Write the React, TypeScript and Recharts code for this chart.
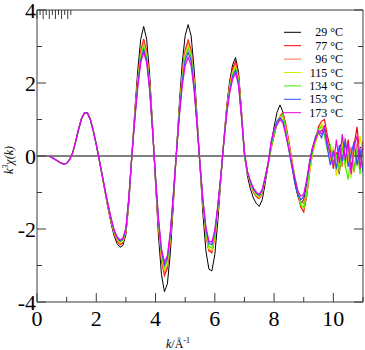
import { LineChart, Line, XAxis, YAxis, ReferenceLine, Legend } from "recharts";

// k grid, Å^-1
const K = [
  0.4, 0.5, 0.6, 0.7, 0.8, 0.9,
  1.0, 1.1, 1.2, 1.3, 1.4, 1.5, 1.6, 1.7, 1.8, 1.9,
  2.0, 2.1, 2.2, 2.3, 2.4, 2.5, 2.6, 2.7, 2.8, 2.9,
  3.0, 3.1, 3.2, 3.3, 3.4, 3.5, 3.6, 3.7, 3.8, 3.9,
  4.0, 4.1, 4.2, 4.3, 4.4, 4.5, 4.6, 4.7, 4.8, 4.9,
  5.0, 5.1, 5.2, 5.3, 5.4, 5.5, 5.6, 5.7, 5.8, 5.9,
  6.0, 6.1, 6.2, 6.3, 6.4, 6.5, 6.6, 6.7, 6.8, 6.9,
  7.0, 7.1, 7.2, 7.3, 7.4, 7.5, 7.6, 7.7, 7.8, 7.9,
  8.0, 8.1, 8.2, 8.3, 8.4, 8.5, 8.6, 8.7, 8.8, 8.9,
  9.0, 9.1, 9.2, 9.3, 9.4, 9.5, 9.6, 9.7, 9.8, 9.9,
  10.0, 10.1, 10.2, 10.3, 10.4, 10.5, 10.6, 10.7, 10.8, 10.9,
  11.0,
];

const T29 = [
  0, -0.04, -0.09, -0.14, -0.19, -0.22,
  -0.2, -0.1, 0.08, 0.38, 0.72, 1.02, 1.18, 1.18, 1.0, 0.7,
  0.32, -0.1, -0.55, -1.0, -1.45, -1.85, -2.18, -2.4, -2.5, -2.45,
  -2.15, -1.3, 0.0, 1.25, 2.35, 3.2, 3.55, 3.2, 2.25, 0.85,
  -0.75, -2.2, -3.25, -3.72, -3.5, -2.65, -1.35, 0.05, 1.4, 2.55,
  3.3, 3.6, 3.3, 2.4, 1.1, -0.3, -1.6, -2.6, -3.1, -3.15,
  -2.7, -1.8, -0.7, 0.4, 1.35, 2.05, 2.5, 2.7, 2.3, 1.25,
  0.05, -0.55, -0.9, -1.15, -1.3, -1.38, -1.2, -0.75, -0.25, 0.3,
  0.8, 1.2, 1.4, 1.2, 0.75, 0.25, -0.25, -0.75, -1.1, -1.3,
  -1.2, -0.75, -0.15, 0.25, 0.5, 0.65, 0.7, 0.6, 0.35, 0.05,
  -0.15, -0.05, 0.2, 0.4, 0.3, 0.05, -0.2, -0.3, -0.05, 0.25,
  0.15,
];

const T77 = [
  0, -0.04, -0.09, -0.14, -0.19, -0.22,
  -0.2, -0.1, 0.08, 0.38, 0.72, 1.02, 1.18, 1.18, 1.0, 0.69,
  0.32, -0.1, -0.54, -0.98, -1.41, -1.79, -2.11, -2.33, -2.43, -2.38,
  -2.09, -1.21, 0.0, 1.13, 2.12, 2.88, 3.2, 2.88, 2.03, 0.77,
  -0.66, -1.94, -2.86, -3.27, -3.08, -2.33, -1.19, 0.04, 1.23, 2.24,
  2.9, 3.17, 2.9, 2.11, 0.97, -0.26, -1.34, -2.18, -2.6, -2.65,
  -2.27, -1.51, -0.63, 0.38, 1.3, 1.97, 2.4, 2.59, 2.21, 1.2,
  0.08, -0.47, -0.77, -0.98, -1.11, -1.17, -1.02, -0.64, -0.21, 0.2,
  0.55, 0.9, 1.1, 1.18, 0.85, 0.4, -0.1, -0.6, -1.05, -1.4,
  -1.53, -1.1, -0.45, 0.1, 0.45, 0.8, 0.95, 1.0, 0.55, 0.2,
  -0.35, 0.1, -0.5, 0.35, -0.2, 0.45, -0.4, 0.3, 0.8, -0.1,
  0.4,
];

const T96 = [
  0, -0.04, -0.09, -0.14, -0.19, -0.22,
  -0.2, -0.1, 0.08, 0.38, 0.72, 1.02, 1.18, 1.18, 1.0, 0.69,
  0.32, -0.1, -0.53, -0.97, -1.39, -1.78, -2.09, -2.3, -2.4, -2.35,
  -2.06, -1.2, 0.0, 1.1, 2.07, 2.82, 3.12, 2.82, 1.98, 0.75,
  -0.65, -1.89, -2.8, -3.2, -3.01, -2.28, -1.16, 0.04, 1.2, 2.19,
  2.84, 3.1, 2.84, 2.06, 0.95, -0.26, -1.33, -2.16, -2.57, -2.61,
  -2.24, -1.49, -0.62, 0.37, 1.26, 1.91, 2.33, 2.51, 2.14, 1.16,
  0.02, -0.46, -0.75, -0.95, -1.08, -1.15, -1.0, -0.62, -0.21, 0.25,
  0.6, 0.95, 1.05, 1.12, 0.8, 0.3, -0.2, -0.65, -1.0, -1.25,
  -1.3, -0.95, -0.35, 0.15, 0.4, 0.7, 0.85, 0.75, 0.4, -0.1,
  0.2, -0.4, 0.15, -0.3, 0.5, -0.15, 0.25, -0.45, 0.35, 0.1,
  -0.3,
];

const T115 = [
  0, -0.04, -0.09, -0.14, -0.19, -0.22,
  -0.2, -0.1, 0.08, 0.38, 0.72, 1.02, 1.18, 1.18, 1.0, 0.69,
  0.31, -0.1, -0.53, -0.96, -1.38, -1.76, -2.07, -2.28, -2.38, -2.33,
  -2.04, -1.17, 0.0, 1.08, 2.02, 2.75, 3.05, 2.75, 1.94, 0.73,
  -0.63, -1.85, -2.73, -3.12, -2.94, -2.23, -1.13, 0.04, 1.18, 2.14,
  2.77, 3.02, 2.77, 2.02, 0.92, -0.25, -1.31, -2.13, -2.54, -2.58,
  -2.21, -1.48, -0.6, 0.36, 1.23, 1.87, 2.28, 2.46, 2.09, 1.14,
  0.1, -0.45, -0.74, -0.94, -1.07, -1.13, -0.98, -0.62, -0.2, 0.3,
  0.65, 0.95, 1.1, 1.0, 0.7, 0.3, -0.15, -0.55, -0.95, -1.3,
  -1.45, -1.0, -0.4, 0.05, 0.35, 0.6, 0.9, 0.7, 0.3, -0.2,
  0.25, -0.55, -0.1, 0.4, -0.35, 0.2, -0.6, 0.15, -0.3, 0.55,
  0.0,
];

const T134 = [
  0, -0.04, -0.09, -0.14, -0.19, -0.22,
  -0.2, -0.1, 0.08, 0.38, 0.72, 1.02, 1.18, 1.18, 1.0, 0.69,
  0.31, -0.1, -0.53, -0.96, -1.36, -1.74, -2.05, -2.26, -2.35, -2.3,
  -2.02, -1.16, 0.0, 1.06, 1.99, 2.7, 3.0, 2.7, 1.9, 0.72,
  -0.62, -1.8, -2.67, -3.05, -2.87, -2.17, -1.11, 0.04, 1.15, 2.09,
  2.71, 2.95, 2.71, 1.97, 0.9, -0.24, -1.28, -2.08, -2.48, -2.52,
  -2.16, -1.44, -0.6, 0.36, 1.2, 1.82, 2.23, 2.4, 2.05, 1.11,
  -0.02, -0.44, -0.72, -0.92, -1.04, -1.1, -0.96, -0.6, -0.2, 0.25,
  0.6, 0.9, 1.0, 1.15, 0.65, 0.2, -0.25, -0.6, -1.0, -1.35,
  -1.4, -1.05, -0.3, 0.1, 0.5, 0.75, 0.8, 0.55, 0.15, 0.3,
  -0.3, 0.05, -0.45, 0.25, -0.25, -0.65, 0.1, -0.4, 0.2, -0.5,
  0.35,
];

const T153 = [
  0, -0.04, -0.09, -0.14, -0.19, -0.22,
  -0.2, -0.1, 0.08, 0.38, 0.72, 1.02, 1.18, 1.18, 1.0, 0.68,
  0.31, -0.1, -0.53, -0.95, -1.35, -1.72, -2.03, -2.23, -2.33, -2.28,
  -2.0, -1.13, 0.0, 1.03, 1.93, 2.62, 2.91, 2.62, 1.85, 0.7,
  -0.6, -1.76, -2.6, -2.98, -2.8, -2.12, -1.08, 0.04, 1.11, 2.01,
  2.61, 2.84, 2.61, 1.9, 0.87, -0.23, -1.23, -2.0, -2.39, -2.43,
  -2.08, -1.39, -0.57, 0.35, 1.17, 1.78, 2.18, 2.35, 2.0, 1.09,
  0.06, -0.43, -0.7, -0.9, -1.01, -1.08, -0.94, -0.59, -0.2, 0.35,
  0.7, 0.95, 1.05, 0.95, 0.6, 0.15, -0.3, -0.7, -1.05, -1.2,
  -1.1, -0.7, -0.2, 0.2, 0.55, 0.65, 0.5, 0.75, 0.2, -0.25,
  0.15, -0.35, 0.3, -0.15, 0.45, -0.3, 0.05, 0.4, -0.25, 0.2,
  -0.45,
];

const T173 = [
  0, -0.04, -0.09, -0.14, -0.19, -0.22,
  -0.2, -0.1, 0.08, 0.38, 0.72, 1.02, 1.18, 1.18, 1.0, 0.68,
  0.31, -0.1, -0.52, -0.94, -1.33, -1.7, -2.01, -2.21, -2.3, -2.25,
  -1.98, -1.12, 0.0, 1.0, 1.88, 2.56, 2.84, 2.56, 1.8, 0.68,
  -0.59, -1.72, -2.54, -2.9, -2.73, -2.07, -1.05, 0.04, 1.05, 1.91,
  2.48, 2.7, 2.48, 1.8, 0.83, -0.23, -1.2, -1.95, -2.33, -2.36,
  -2.03, -1.35, -0.56, 0.34, 1.13, 1.72, 2.1, 2.27, 1.93, 1.05,
  0.12, -0.42, -0.68, -0.87, -0.99, -1.05, -0.91, -0.57, -0.19, 0.4,
  0.75, 0.85, 1.0, 0.9, 0.55, 0.2, -0.2, -0.6, -0.95, -1.1,
  -1.05, -0.65, -0.15, 0.25, 0.45, 0.7, 0.6, 0.85, 0.35, 0.05,
  -0.3, 0.45, -0.2, 0.6, -0.1, 0.35, -0.5, 0.25, 0.55, -0.35,
  0.3,
];

const SERIES = [
  { key: "t29", name: "29 °C", color: "#000000", width: 1, values: T29 },
  { key: "t77", name: "77 °C", color: "#ff0000", width: 1.2, values: T77 },
  { key: "t96", name: "96 °C", color: "#ff6a4d", width: 1.2, values: T96 },
  { key: "t115", name: "115 °C", color: "#d4f000", width: 1.2, values: T115 },
  { key: "t134", name: "134 °C", color: "#44ee00", width: 1.2, values: T134 },
  { key: "t153", name: "153 °C", color: "#3050ff", width: 1.2, values: T153 },
  { key: "t173", name: "173 °C", color: "#ee00ee", width: 1.2, values: T173 },
];

const X_TICKS = [0, 1, 2, 3, 4, 5, 6, 7, 8, 9, 10, 11];
const Y_TICKS = [-4, -3, -2, -1, 0, 1, 2, 3, 4];

const rows = K.map((k, i) => {
  const r: Record<string, number> = { k };
  SERIES.forEach((s) => (r[s.key] = s.values[i]));
  return r;
});

const FRAME = "#3a3a3a";
const SERIF = "Liberation Serif";

function BottomTick({ x, y, payload }: any) {
  const v = payload.value;
  const major = v % 2 === 0;
  return (
    <g>
      <line x1={x} y1={y} x2={x} y2={y - (major ? 9 : 5)} stroke={FRAME} />
      {major && (
        <text x={x} y={y + 24} textAnchor="middle" fontSize={22} fontFamily={SERIF} fill="#000">
          {v}
        </text>
      )}
    </g>
  );
}

function TopTick({ x, y, payload }: any) {
  const major = payload.value % 2 === 0;
  return <line x1={x} y1={y} x2={x} y2={y + (major ? 9 : 5)} stroke={FRAME} />;
}

function LeftTick({ x, y, payload }: any) {
  const v = payload.value;
  const major = v % 2 === 0;
  return (
    <g>
      <line x1={x} y1={y} x2={x + (major ? 9 : 5)} y2={y} stroke={FRAME} />
      {major && (
        <text x={x - 1} y={y + 8} textAnchor="end" fontSize={22} fontFamily={SERIF} fill="#000">
          {v}
        </text>
      )}
    </g>
  );
}

function RightTick({ x, y, payload }: any) {
  const major = payload.value % 2 === 0;
  return <line x1={x} y1={y} x2={x - (major ? 9 : 5)} y2={y} stroke={FRAME} />;
}

function YTitle() {
  return (
    <text transform="translate(13,160) rotate(-90)" textAnchor="middle" fontSize={12} fontFamily={SERIF} fontStyle="italic" fill="#000">
      k<tspan dy={-5} fontSize={8}>3</tspan>
      <tspan dy={5}>χ(k)</tspan>
    </text>
  );
}

function XTitle() {
  return (
    <text x={178} y={348} textAnchor="middle" fontSize={12} fontFamily={SERIF} fill="#000">
      <tspan fontStyle="italic">k</tspan>/Å<tspan dy={-5} fontSize={8}>-1</tspan>
    </text>
  );
}

function LegendBox({ payload }: any) {
  return (
    <svg width={70} height={100} style={{ display: "block" }}>
      {(payload || []).map((p: any, i: number) => {
        const cy = 10.3 + i * 13.4;
        return (
          <g key={p.value}>
            <line x1={6} x2={23} y1={cy} y2={cy} stroke={p.color} strokeWidth={1} />
            <text x={65} y={cy + 4} textAnchor="end" fontSize={12} fontFamily={SERIF} fill="#000">
              {p.value}
            </text>
          </g>
        );
      })}
    </svg>
  );
}

const legendOrder = (item: any) => SERIES.findIndex((s) => s.name === item.value);

export default function App() {
  return (
    <div style={{ position: "absolute", left: 0, top: 0, width: 365, height: 350, background: "#fff" }}>
      <LineChart width={365} height={350} data={rows} margin={{ top: 9, right: 0, bottom: 0, left: 0 }}>
        <XAxis
          dataKey="k"
          type="number"
          domain={[0, 11]}
          ticks={X_TICKS}
          interval={0}
          height={48}
          tickSize={0}
          tickMargin={0}
          tickLine={false}
          axisLine={{ stroke: FRAME }}
          tick={<BottomTick />}
          label={<XTitle />}
          allowDataOverflow
        />
        <XAxis
          xAxisId="top"
          orientation="top"
          type="number"
          domain={[0, 11]}
          ticks={X_TICKS}
          interval={0}
          height={1}
          tickSize={0}
          tickMargin={0}
          tickLine={false}
          axisLine={{ stroke: FRAME }}
          tick={<TopTick />}
          allowDataOverflow
        />
        <YAxis
          type="number"
          domain={[-4, 4]}
          ticks={Y_TICKS}
          interval={0}
          width={37}
          tickSize={0}
          tickMargin={0}
          tickLine={false}
          axisLine={{ stroke: FRAME }}
          tick={<LeftTick />}
          label={<YTitle />}
          allowDataOverflow
        />
        <YAxis
          yAxisId="right"
          orientation="right"
          type="number"
          domain={[-4, 4]}
          ticks={Y_TICKS}
          interval={0}
          width={2}
          tickSize={0}
          tickMargin={0}
          tickLine={false}
          axisLine={{ stroke: FRAME }}
          tick={<RightTick />}
          allowDataOverflow
        />
        <ReferenceLine y={0} stroke="#000" strokeWidth={1} />
        {SERIES.map((s) => (
          <Line
            key={s.key}
            dataKey={s.key}
            name={s.name}
            type="linear"
            stroke={s.color}
            strokeWidth={s.width}
            dot={false}
            activeDot={false}
            isAnimationActive={false}
          />
        ))}
        <Legend
          layout="vertical"
          align="center"
          verticalAlign="middle"
          itemSorter={legendOrder}
          wrapperStyle={{ left: 278, top: 22, width: 70, height: 100 }}
          content={<LegendBox />}
        />
      </LineChart>
    </div>
  );
}
